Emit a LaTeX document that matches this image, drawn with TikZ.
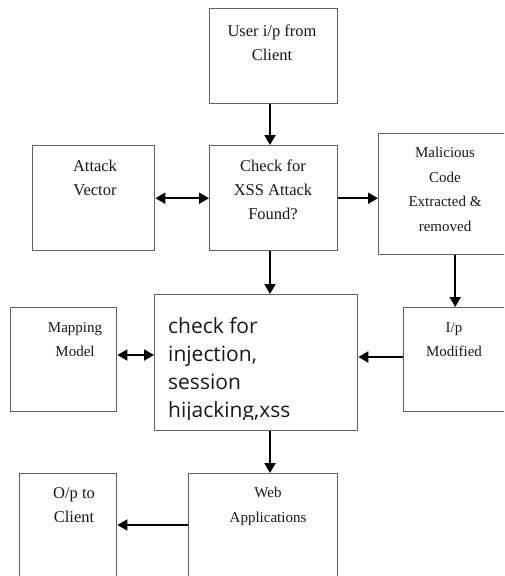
\documentclass[tikz,border=0pt]{standalone}
\usepackage{fontspec}
\setmainfont{Liberation Serif}
\newfontfamily\bodysans{Open Sans}
\usetikzlibrary{arrows.meta}

\tikzset{
  blk/.style={draw=black!62, line width=1.4pt, inner sep=0pt, anchor=north west},
  lbl/.style={anchor=north, align=center, inner sep=0pt, text=black!90,
              font=\fontsize{16.5}{24}\selectfont},
  lblsm/.style={lbl, font=\fontsize{15}{24.5}\selectfont},
  tip/.tip={Triangle[length=10pt,width=11pt]},
  arr/.style={line width=2pt, -tip},
  dbl/.style={line width=2pt, tip-tip}
}

\begin{document}
\begin{tikzpicture}[x=1pt,y=-1pt]
\useasboundingbox (0,0) rectangle (504,576);
\clip (0,0) rectangle (504,576);
\fill[white] (0,0) rectangle (504,576);

% boxes
\node[blk, minimum width=128pt, minimum height=95pt]  (user) at (209,8)   {};
\node[blk, minimum width=122pt, minimum height=105pt] (atk)  at (32,145)  {};
\node[blk, minimum width=128pt, minimum height=105pt] (chk)  at (209,145) {};
\node[blk, minimum width=130pt, minimum height=121pt] (mal)  at (378,133) {};
\node[blk, minimum width=203pt, minimum height=136pt] (cen)  at (154,294) {};
\node[blk, minimum width=106pt, minimum height=104pt] (map)  at (10,307)  {};
\node[blk, minimum width=103pt, minimum height=104pt] (ipm)  at (403,307) {};
\node[blk, minimum width=149pt, minimum height=106pt] (web)  at (188,473) {};
\node[blk, minimum width=97pt,  minimum height=106pt] (op)   at (19,473)  {};

% labels
\node[lbl]   (tuser) at (272,25)  {User i/p from\\Client};
\node[lbl]   (tatk)  at (95,160)  {Attack\\Vector};
\node[lbl]   (tchk)  at (273,160) {Check for\\XSS Attack\\Found?};
\node[lblsm] (tmal)  at (445,147) {Malicious\\Code\\Extracted \&\\removed};
\node[lblsm] (tmap)  at (75,322)  {Mapping\\Model};
\node[lblsm] (tipm)  at (454,322) {I/p\\Modified};
\node[lblsm] (tweb)  at (268,487) {Web\\Applications};
\node[lbl]   (top)   at (74,487)  {O/p to\\Client};

% text of the central box, cut off at its lower part
\begin{scope}
  \clip (154,294) rectangle (357,419);
  \node[anchor=north west, align=left, inner sep=0pt, text=black!90,
        font=\bodysans\fontsize{21}{28}\selectfont] (tcen) at (168,317)
    {check for\\injection,\\session\\hijacking,xss};
\end{scope}

% connectors
\draw[arr] (user.south -| 270,0) -- (chk.north -| 270,0);
\draw[dbl] (atk.east) -- (atk.east -| chk.west);
\draw[arr] (chk.east |- atk.east) -- (mal.west |- atk.east);
\draw[arr] (chk.south -| 270,0) -- (cen.north -| 270,0);
\draw[arr] (ipm.north |- mal.south) -- (ipm.north);
\draw[arr] (ipm.west |- 0,357) -- (cen.east |- 0,357);
\draw[dbl] (map.east |- 0,355) -- (cen.west |- 0,355);
\draw[arr] (cen.south -| 270,0) -- (web.north -| 270,0);
\draw[arr] (web.west |- 0,525) -- (op.east |- 0,525);
\end{tikzpicture}
\end{document}
